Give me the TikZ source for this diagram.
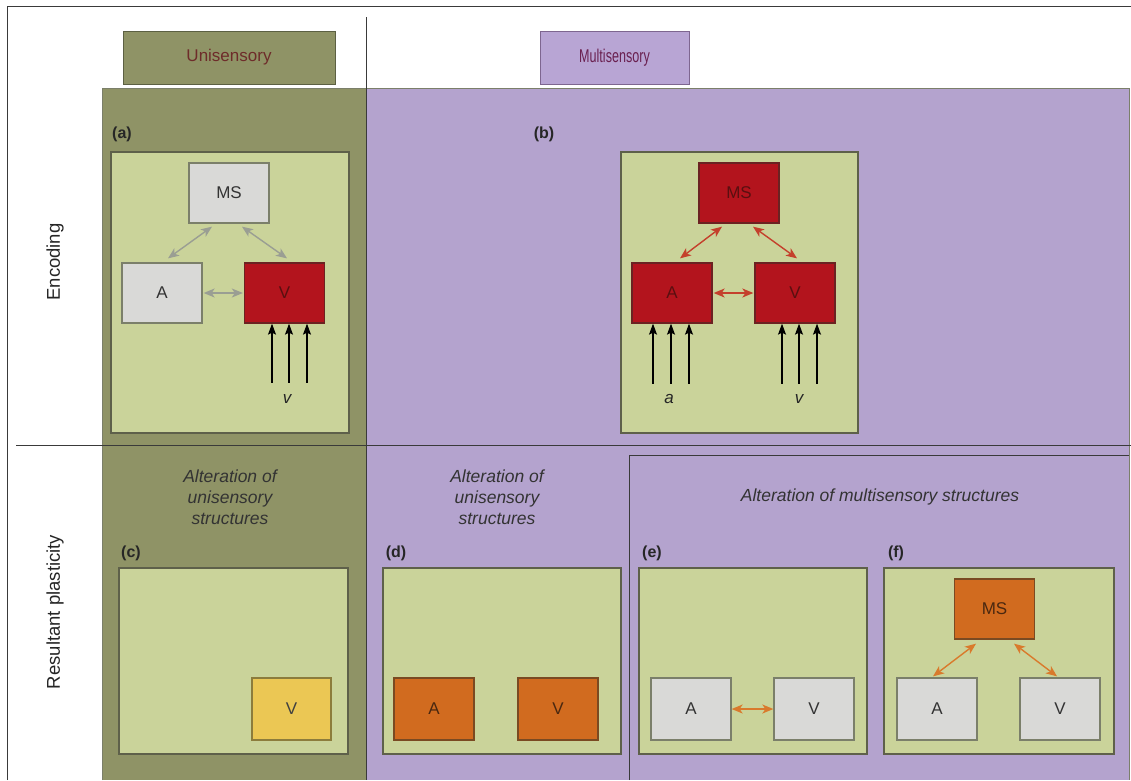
\documentclass[tikz,border=0pt]{standalone}
\usepackage{fontspec}
\setmainfont{Liberation Sans}
\newfontfamily\narrowsans[FakeStretch=0.68]{Liberation Sans}
\usetikzlibrary{arrows.meta}

\definecolor{oliveBg}{HTML}{8F9366}
\definecolor{oliveEdge}{HTML}{5C6043}
\definecolor{purpleBg}{HTML}{B4A3CE}
\definecolor{purpleHead}{HTML}{B8A5D4}
\definecolor{purpleEdge}{HTML}{7E6690}
\definecolor{panelFill}{HTML}{CAD39A}
\definecolor{panelEdge}{HTML}{5E604A}
\definecolor{greyBox}{HTML}{D9D9D7}
\definecolor{greyEdge}{HTML}{7B7F6A}
\definecolor{redBox}{HTML}{B3141D}
\definecolor{redEdge}{HTML}{6B2222}
\definecolor{redText}{HTML}{5A0F10}
\definecolor{redArrow}{HTML}{C4402C}
\definecolor{greyArrow}{HTML}{9A9E93}
\definecolor{orangeBox}{HTML}{D16B1F}
\definecolor{orangeEdge}{HTML}{7A4A22}
\definecolor{orangeText}{HTML}{4A2810}
\definecolor{orangeArrow}{HTML}{D97A2C}
\definecolor{yellowBox}{HTML}{EBC754}
\definecolor{yellowEdge}{HTML}{8C7C3C}
\definecolor{uniText}{HTML}{6E2C2A}
\definecolor{multiText}{HTML}{6A2050}
\definecolor{lineDark}{HTML}{3A3A3A}

\begin{document}
\begin{tikzpicture}[x=1pt,y=-1pt,
  rule/.style={draw=lineDark,line width=0.9pt},
  header/.style={draw,line width=1pt,minimum height=53pt,font=\fontsize{17}{20}\selectfont,inner sep=0pt},
  panel/.style={draw=panelEdge,fill=panelFill,line width=1.2pt,inner sep=0pt},
  box/.style={line width=1.3pt,minimum width=80pt,minimum height=60pt,inner sep=0pt,font=\fontsize{17}{20}\selectfont},
  greybox/.style={box,draw=greyEdge,fill=greyBox,text=black!80},
  redbox/.style={box,draw=redEdge,fill=redBox,text=redText},
  orangebox/.style={box,draw=orangeEdge,fill=orangeBox,text=orangeText},
  yellowbox/.style={box,draw=yellowEdge,fill=yellowBox,text=black!75},
  tag/.style={font=\bfseries\fontsize{16}{19}\selectfont,text=black!85},
  caption/.style={font=\itshape\fontsize{17.5}{21}\selectfont,align=center,text=black!80},
  rowlabel/.style={font=\fontsize{18.5}{21}\selectfont,rotate=90,text=black!85},
  link/.style={line width=1.4pt,{Stealth[length=11pt,width=9pt,inset=3pt]}-{Stealth[length=11pt,width=9pt,inset=3pt]}},
  inarrow/.style={line width=1.2pt,black,-{Stealth[length=11pt,width=8pt,inset=2pt]}},
  letter/.style={font=\itshape\fontsize{17}{20}\selectfont,text=black!85}
]
\useasboundingbox (0,0) rectangle (1131,780);
\fill[white] (0,0) rectangle (1131,780);

% column backgrounds
\fill[oliveBg] (102,88) rectangle (366,780);
\fill[purpleBg] (366,88) rectangle (1129,780);
\draw[draw=greyEdge,line width=0.8pt] (102,780) -- (102,88) -- (1129,88) -- (1129,780);

% outer frame and dividers
\draw[rule] (7,780) -- (7,6) -- (1131,6);
\draw[rule] (366,17) -- (366,780);
\draw[rule] (16,445) -- (1131,445);
\draw[rule] (629,780) -- (629,455) -- (1129,455);

% column headers
\node[header,fill=oliveBg,draw=oliveEdge,text=uniText,minimum width=212pt] (uni) at (229,57.5) {Unisensory};
\node[header,fill=purpleHead,draw=purpleEdge,text=multiText,minimum width=149pt,font=\narrowsans\fontsize{18.5}{22}\selectfont] (multi) at (614.5,57.5) {Multisensory};

% row labels
\node[rowlabel] (enc) at (55,262) {Encoding};
\node[rowlabel] (res) at (55,612) {Resultant plasticity};

% ---------- (a) ----------
\node[tag] (ta) at (122,134) {(a)};
\node[panel,minimum width=238pt,minimum height=281pt] (pa) at (230,292.5) {};
\node[greybox] (aMS) at (229,193) {MS};
\node[greybox] (aA) at (162,293) {A};
\node[redbox] (aV) at (284.5,293) {V};
\draw[link,greyArrow] ([xshift=-17pt,yshift=-3pt]aMS.south) -- ([xshift=6pt,yshift=4pt]aA.north);
\draw[link,greyArrow] ([xshift=13pt,yshift=-3pt]aMS.south) -- ([xshift=2.5pt,yshift=4pt]aV.north);
\draw[link,greyArrow] ([xshift=1pt]aA.east) -- ([xshift=-1pt]aV.west);
\foreach \dx in {-12.5,4.5,22.5}
  \draw[inarrow] ([xshift=\dx pt,yshift=-59pt]aV.south) -- ([xshift=\dx pt]aV.south);
\node[letter] (av) at (287,399) {v};

% ---------- (b) ----------
\node[tag] (tb) at (544,134) {(b)};
\node[panel,minimum width=237pt,minimum height=281pt] (pb) at (739.5,292.5) {};
\node[redbox] (bMS) at (739,193) {MS};
\node[redbox] (bA) at (672,293) {A};
\node[redbox] (bV) at (795,293) {V};
\draw[link,redArrow] ([xshift=-17pt,yshift=-3pt]bMS.south) -- ([xshift=8pt,yshift=4pt]bA.north);
\draw[link,redArrow] ([xshift=14pt,yshift=-3pt]bMS.south) -- ([xshift=2pt,yshift=4pt]bV.north);
\draw[link,redArrow] ([xshift=1pt]bA.east) -- ([xshift=-1pt]bV.west);
\foreach \dx in {-19,-1,17}
  \draw[inarrow] ([xshift=\dx pt,yshift=-60pt]bA.south) -- ([xshift=\dx pt]bA.south);
\foreach \dx in {-13,4,22}
  \draw[inarrow] ([xshift=\dx pt,yshift=-60pt]bV.south) -- ([xshift=\dx pt]bV.south);
\node[letter] (ba) at (669,399) {a};
\node[letter] (bv) at (799,399) {v};

% ---------- bottom captions ----------
\node[caption] (capc) at (230,497) {Alteration of\\unisensory\\structures};
\node[caption] (capd) at (497,497) {Alteration of\\unisensory\\structures};
\node[caption] (capef) at (880,497) {Alteration of multisensory structures};

% ---------- (c) ----------
\node[tag] (tc) at (131,553) {(c)};
\node[panel,minimum width=229pt,minimum height=186pt] (pc) at (233.5,661) {};
\node[yellowbox,minimum width=79pt,minimum height=62pt] (cV) at (291.5,709) {V};

% ---------- (d) ----------
\node[tag] (td) at (396,553) {(d)};
\node[panel,minimum width=238pt,minimum height=186pt] (pd) at (502,661) {};
\node[orangebox,minimum height=62pt] (dA) at (434,709) {A};
\node[orangebox,minimum height=62pt] (dV) at (558,709) {V};

% ---------- (e) ----------
\node[tag] (te) at (652,553) {(e)};
\node[panel,minimum width=228pt,minimum height=186pt] (pe) at (753,661) {};
\node[greybox,minimum height=62pt] (eA) at (691,709) {A};
\node[greybox,minimum height=62pt] (eV) at (814,709) {V};
\draw[link,orangeArrow] (eA.east) -- (eV.west);

% ---------- (f) ----------
\node[tag] (tf) at (896,553) {(f)};
\node[panel,minimum width=230pt,minimum height=186pt] (pf) at (999,661) {};
\node[orangebox] (fMS) at (994.5,609) {MS};
\node[greybox,minimum height=62pt] (fA) at (937,709) {A};
\node[greybox,minimum height=62pt] (fV) at (1060,709) {V};
\draw[link,orangeArrow] ([xshift=-18.5pt,yshift=-4pt]fMS.south) -- ([xshift=-4pt,yshift=1pt]fA.north);
\draw[link,orangeArrow] ([xshift=19.5pt,yshift=-4pt]fMS.south) -- ([xshift=-3pt,yshift=1pt]fV.north);
\end{tikzpicture}
\end{document}
